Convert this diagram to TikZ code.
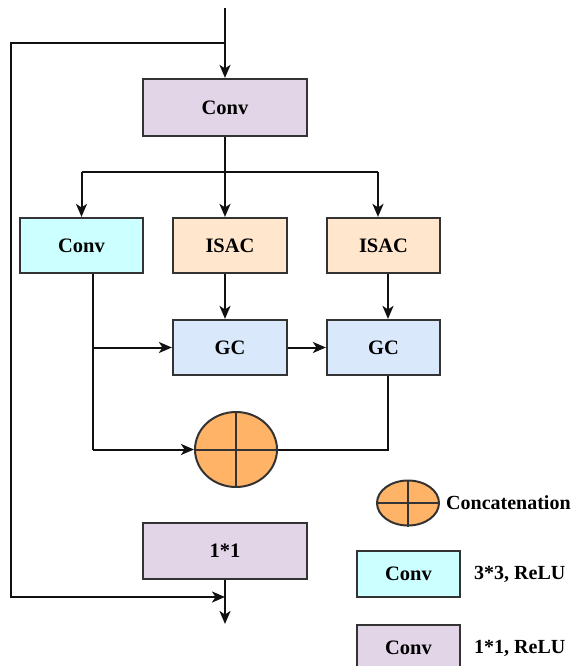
\documentclass[tikz,border=0pt]{standalone}
\usepackage{fontspec}
\setmainfont{Liberation Serif}
\usetikzlibrary{arrows.meta,calc,shapes.geometric}
\definecolor{purfill}{HTML}{E1D5E7}
\definecolor{cyanfill}{HTML}{CCFFFF}
\definecolor{orangefill}{HTML}{FFE6CC}
\definecolor{bluefill}{HTML}{DAE8FC}
\definecolor{catfill}{HTML}{FFB366}
\definecolor{edge}{HTML}{333333}
\definecolor{wire}{HTML}{111111}
\tikzset{
  box/.style={draw=edge, line width=2.2pt, rectangle, inner sep=0pt,
    font=\fontsize{20.5}{24}\selectfont\bfseries},
  catnode/.style={draw=edge, line width=2pt, ellipse, fill=catfill, inner sep=0pt},
  wireline/.style={draw=wire, line width=2pt},
  arr/.style={wireline, -{Stealth[length=13pt,width=11pt,inset=3.5pt]}},
  lbl/.style={font=\fontsize{20}{24}\selectfont\bfseries, inner sep=0pt, anchor=west}
}
\begin{document}
\begin{tikzpicture}[x=1pt,y=-1pt]
\useasboundingbox (0,0) rectangle (574,666);
% main nodes
\node[box, fill=purfill, minimum width=164pt, minimum height=57pt] (conv1) at (225,107.5) {Conv};
\node[box, fill=cyanfill, minimum width=123pt, minimum height=55pt] (conv2) at (81.5,245.5) {Conv};
\node[box, fill=orangefill, minimum width=114pt, minimum height=55pt] (isac1) at (230,245.5) {ISAC};
\node[box, fill=orangefill, minimum width=113pt, minimum height=55pt] (isac2) at (383.5,245.5) {ISAC};
\node[box, fill=bluefill, minimum width=114pt, minimum height=55pt] (gc1) at (230,347.5) {GC};
\node[box, fill=bluefill, minimum width=113pt, minimum height=55pt] (gc2) at (383.5,347.5) {GC};
\node[catnode, minimum width=82pt, minimum height=75pt] (cat) at (236,449.5) {};
\draw[draw=edge, line width=2pt] (cat.north) -- (cat.south) (cat.west) -- (cat.east);
\node[box, fill=purfill, minimum width=164pt, minimum height=56pt] (one) at (225,551) {1*1};
% coordinates
\coordinate (in) at (225,8);
\coordinate (skipA) at (225,43);
\coordinate (skipB) at (11,43);
\coordinate (skipC) at (11,597);
\coordinate (skipD) at (225,597);
\coordinate (br) at (225,172);
\coordinate (brL) at (81.5,172);
\coordinate (brR) at (378,172);
\coordinate (c1x) at (93,449.5);
\coordinate (c2x) at (388,449.5);
\coordinate (out) at (225,624);
% connectors
\draw[arr] (in) -- (conv1.north);
\draw[arr] (skipA) -- (skipB) -- (skipC) -- (skipD);
\draw[wireline] (conv1.south) -- (br);
\draw[wireline] (brL) -- (brR);
\draw[arr] (brL) -- (conv2.north);
\draw[arr] (br) -- (br |- isac1.north);
\draw[arr] (brR) -- (brR |- isac2.north);
\draw[arr] (br |- isac1.south) -- (br |- gc1.north);
\draw[arr] (c2x |- isac2.south) -- (c2x |- gc2.north);
\draw[wireline] (c1x |- conv2.south) -- (c1x);
\draw[arr] (c1x) -- (cat.west);
\draw[arr] (c1x |- gc1.west) -- (gc1.west);
\draw[arr] (gc1.east) -- (gc2.west);
\draw[wireline] (c2x |- gc2.south) -- (c2x) -- (cat.east);
\draw[arr] (one.south) -- (out);
% legend
\node[catnode, minimum width=62pt, minimum height=45pt] (lcat) at (408,503) {};
\draw[draw=edge, line width=2pt] (lcat.north) -- (lcat.south) (lcat.west) -- (lcat.east);
\node[lbl] (lcattxt) at (446,503) {Concatenation};
\node[box, fill=cyanfill, minimum width=103pt, minimum height=46pt] (lconv1) at (408.5,574) {Conv};
\node[lbl] (lconv1txt) at (474,574) {3*3, ReLU};
\node[box, fill=purfill, minimum width=103pt, minimum height=46pt] (lconv2) at (408.5,648) {Conv};
\node[lbl] (lconv2txt) at (474,648) {1*1, ReLU};
\end{tikzpicture}
\end{document}
